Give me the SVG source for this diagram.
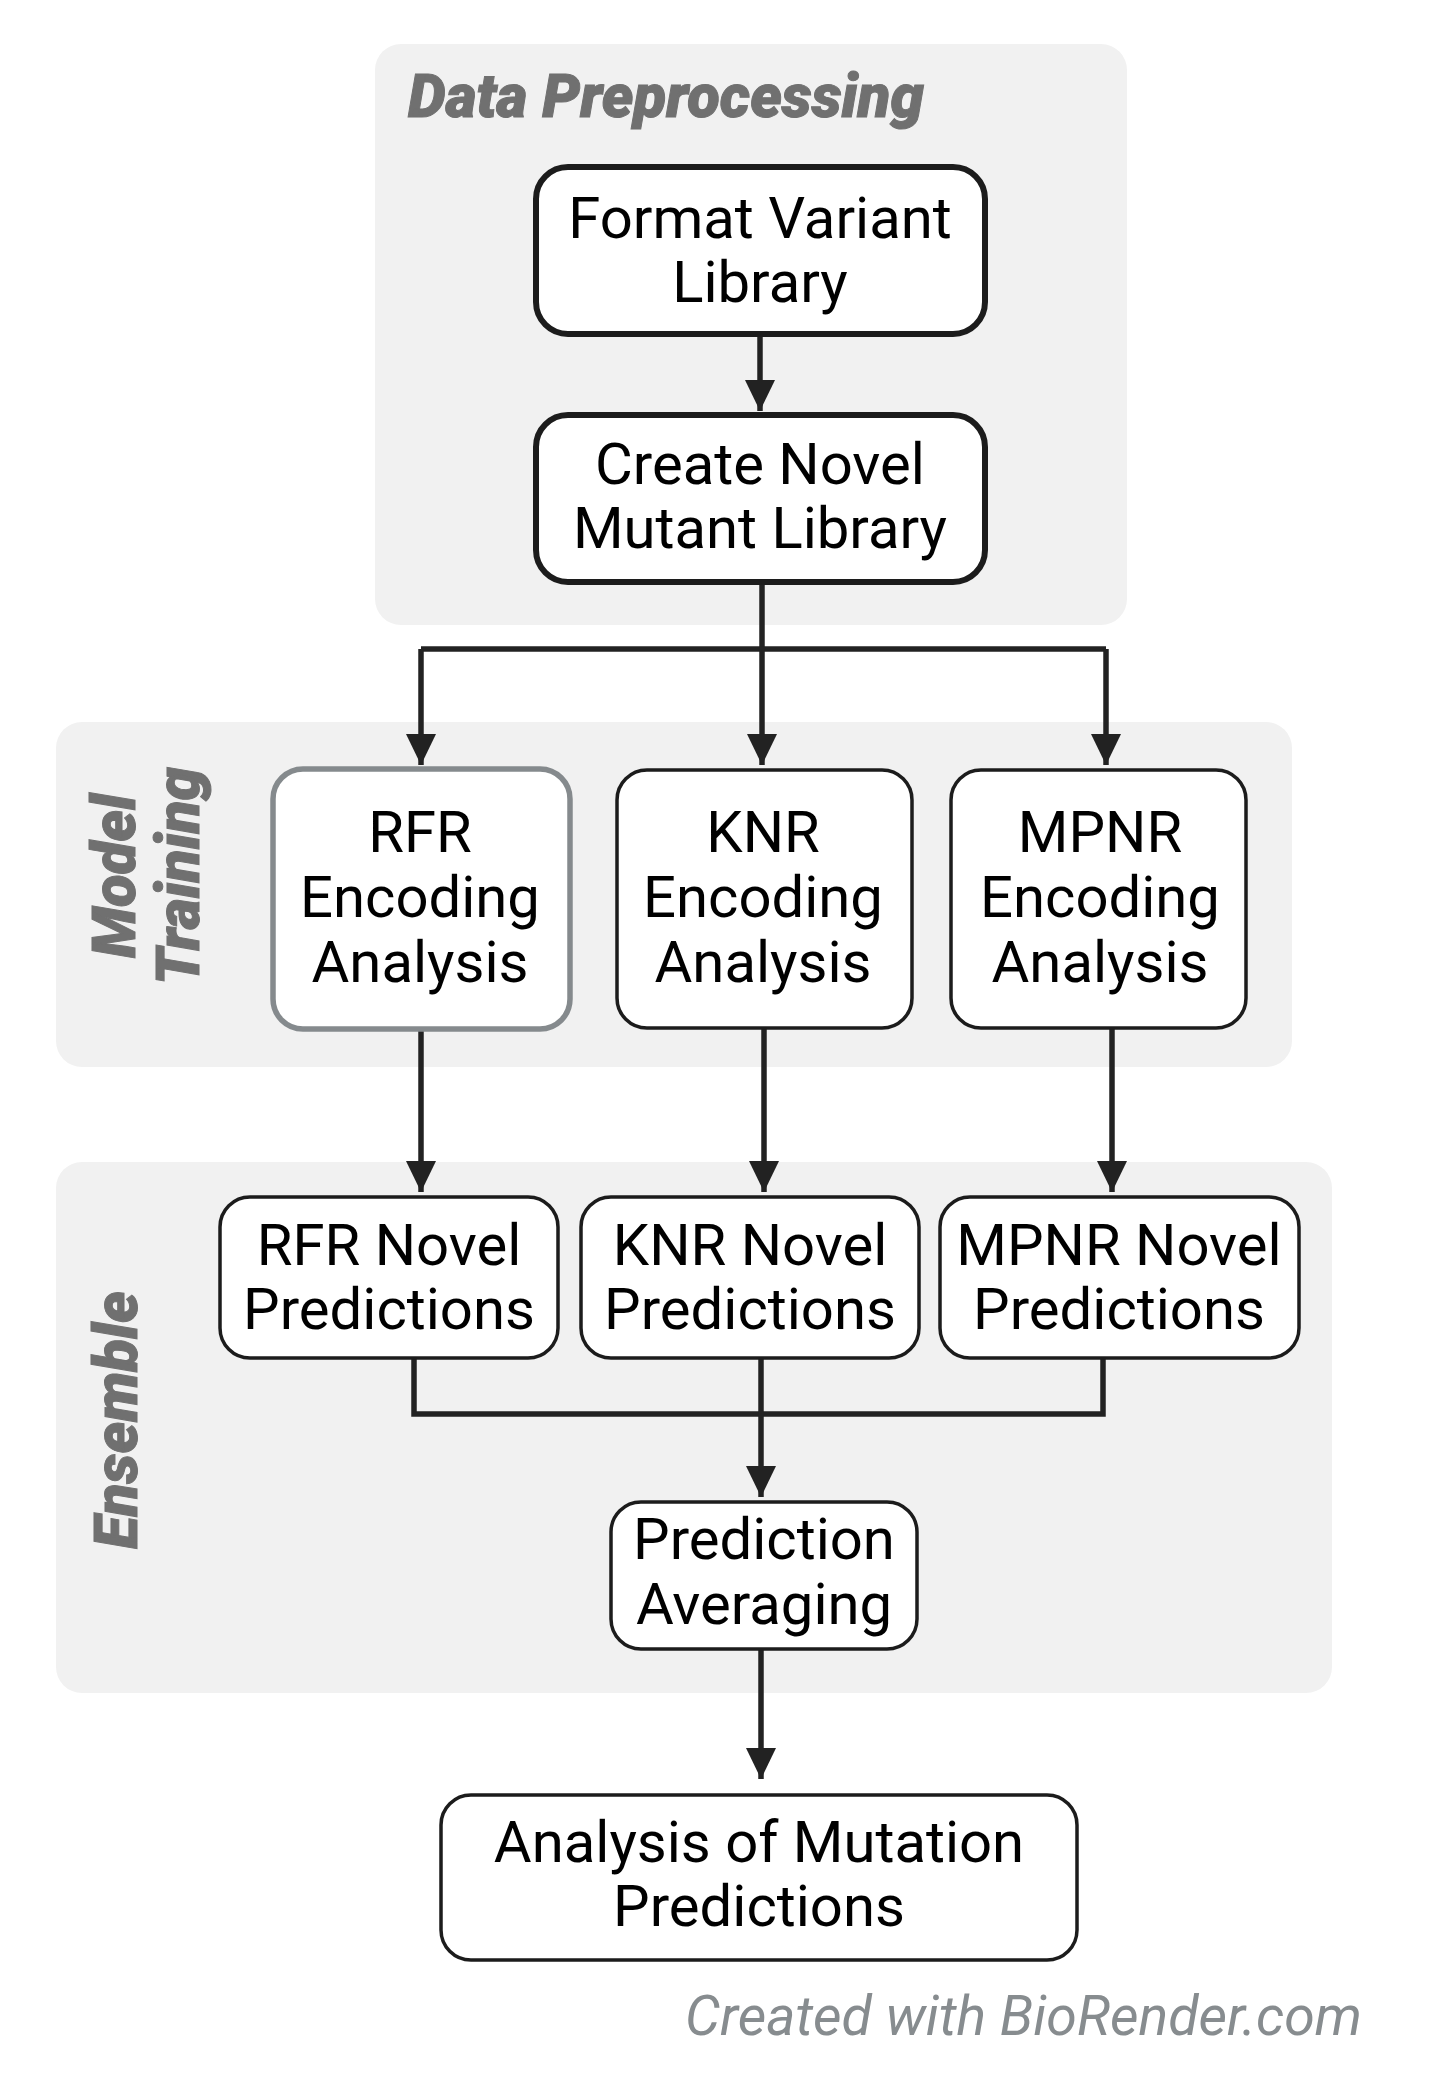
<svg xmlns="http://www.w3.org/2000/svg" width="1432" height="2082" viewBox="0 0 1432 2082">
<defs>
<style>
.panel{fill:#f1f1f1;stroke:none}
.ttl{font-family:Roboto,"Liberation Sans",sans-serif;font-weight:900;font-style:italic;fill:#707070;stroke:#707070;stroke-width:1;font-size:60px}
.box{fill:#ffffff;stroke:#1c1c1c;stroke-width:3.5}
.boxb{fill:#ffffff;stroke:#1c1c1c;stroke-width:6}
.boxg{fill:#ffffff;stroke:#858a8d;stroke-width:5.5}
.lbl{font-family:Roboto,"Liberation Sans",sans-serif;font-size:58px;fill:#000000;text-anchor:middle}
.wm{font-family:Roboto,"Liberation Sans",sans-serif;font-style:italic;font-size:55px;fill:#878c8f;text-anchor:end}
.con{fill:none;stroke:#222222;stroke-width:5.5}
</style>
<marker id="ah" markerUnits="userSpaceOnUse" markerWidth="31" markerHeight="30" refX="31" refY="15" orient="auto">
<path d="M0,0 L31,15 L0,30 z" fill="#222222"/>
</marker>
</defs>
<rect width="1432" height="2082" fill="#ffffff"/>

<g id="panel-data-preprocessing">
<rect class="panel" x="375" y="44" width="752" height="581" rx="26"/>
<text class="ttl" x="408" y="117">Data Preprocessing</text>
</g>
<g id="panel-model-training">
<rect class="panel" x="56" y="722" width="1236" height="345" rx="26"/>
<text class="ttl" transform="translate(135,876) rotate(-90)" text-anchor="middle"><tspan x="0" y="0">Model</tspan><tspan x="0" y="64">Training</tspan></text>
</g>
<g id="panel-ensemble">
<rect class="panel" x="56" y="1162" width="1276" height="531" rx="26"/>
<text class="ttl" transform="translate(137,1420) rotate(-90)" text-anchor="middle">Ensemble</text>
</g>

<g id="connectors">
<path class="con" d="M760 337 V411" marker-end="url(#ah)"/>
<path class="con" d="M762 585 V649"/>
<path class="con" d="M421 649 H1106"/>
<path class="con" d="M421 649 V765" marker-end="url(#ah)"/>
<path class="con" d="M762 649 V765" marker-end="url(#ah)"/>
<path class="con" d="M1106 649 V765" marker-end="url(#ah)"/>
<path class="con" d="M421 1029 V1192" marker-end="url(#ah)"/>
<path class="con" d="M764 1029 V1192" marker-end="url(#ah)"/>
<path class="con" d="M1112 1029 V1192" marker-end="url(#ah)"/>
<path class="con" d="M414 1359 V1414 H1103 V1359"/>
<path class="con" d="M761 1359 V1497" marker-end="url(#ah)"/>
<path class="con" d="M761 1649 V1779" marker-end="url(#ah)"/>
</g>

<g id="node-format">
<rect class="boxb" x="536" y="167" width="449" height="167" rx="32"/>
<text class="lbl" x="760" y="238">Format Variant</text>
<text class="lbl" x="760" y="302">Library</text>
</g>
<g id="node-create">
<rect class="boxb" x="536" y="415" width="449" height="167" rx="32"/>
<text class="lbl" x="760" y="484">Create Novel</text>
<text class="lbl" x="760" y="548">Mutant Library</text>
</g>

<g id="node-rfr-enc">
<rect class="boxg" x="273" y="769" width="297" height="260" rx="30"/>
<text class="lbl" x="420" y="852">RFR</text>
<text class="lbl" x="420" y="917">Encoding</text>
<text class="lbl" x="420" y="982">Analysis</text>
</g>
<g id="node-knr-enc">
<rect class="box" x="617" y="770" width="295" height="258" rx="30"/>
<text class="lbl" x="763" y="852">KNR</text>
<text class="lbl" x="763" y="917">Encoding</text>
<text class="lbl" x="763" y="982">Analysis</text>
</g>
<g id="node-mpnr-enc">
<rect class="box" x="951" y="770" width="295" height="258" rx="30"/>
<text class="lbl" x="1100" y="852">MPNR</text>
<text class="lbl" x="1100" y="917">Encoding</text>
<text class="lbl" x="1100" y="982">Analysis</text>
</g>

<g id="node-rfr-novel">
<rect class="box" x="220" y="1197" width="338" height="161" rx="30"/>
<text class="lbl" x="389" y="1265">RFR Novel</text>
<text class="lbl" x="389" y="1329">Predictions</text>
</g>
<g id="node-knr-novel">
<rect class="box" x="581" y="1197" width="338" height="161" rx="30"/>
<text class="lbl" x="750" y="1265">KNR Novel</text>
<text class="lbl" x="750" y="1329">Predictions</text>
</g>
<g id="node-mpnr-novel">
<rect class="box" x="940" y="1197" width="359" height="161" rx="30"/>
<text class="lbl" x="1119" y="1265">MPNR Novel</text>
<text class="lbl" x="1119" y="1329">Predictions</text>
</g>

<g id="node-averaging">
<rect class="box" x="611" y="1502" width="306" height="147" rx="30"/>
<text class="lbl" x="764" y="1559">Prediction</text>
<text class="lbl" x="764" y="1624">Averaging</text>
</g>

<g id="node-analysis">
<rect class="box" x="441" y="1795" width="636" height="165" rx="30"/>
<text class="lbl" x="759" y="1862">Analysis of Mutation</text>
<text class="lbl" x="759" y="1926">Predictions</text>
</g>

<text class="wm" x="1362" y="2035" textLength="677" lengthAdjust="spacingAndGlyphs">Created with BioRender.com</text>
</svg>
